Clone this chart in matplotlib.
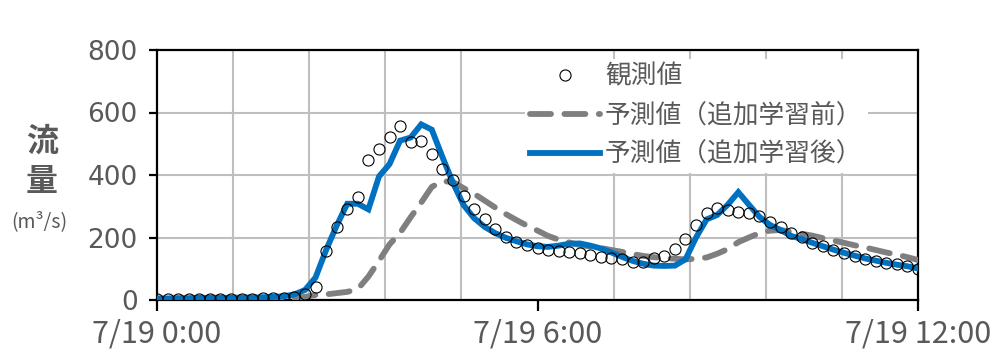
import matplotlib
matplotlib.use("Agg")
import matplotlib.pyplot as plt
import numpy as np

plt.rcParams['font.family'] = ['Noto Sans CJK JP', 'DejaVu Sans']

# 10-minute steps from 7/19 0:00 to 7/19 12:00
observed = [2, 2, 3, 3, 3, 3, 3, 3, 4, 4, 5, 5, 7, 10, 18, 42, 158, 234, 291, 330,
            448, 483, 522, 557, 506, 509, 466, 419, 385, 333, 291, 260, 228, 202, 187, 176,
            165, 160, 156, 154, 150, 144, 139, 136, 130, 122, 123, 134, 141, 163, 196, 239,
            278, 296, 288, 282, 278, 268, 250, 234, 216, 203, 183, 173, 160, 150, 141, 131,
            125, 118, 114, 109, 99]
pred_before = [1, 1, 1, 1, 1, 1, 1, 2, 2, 2, 2, 3, 3, 5, 10, 16, 18, 22, 26, 35,
               75, 125, 178, 215, 265, 312, 362, 380, 378, 358, 340, 318, 296, 275, 256, 238,
               222, 205, 193, 184, 176, 171, 166, 160, 154, 147, 141, 137, 134, 132, 130, 132,
               136, 148, 163, 185, 200, 214, 222, 224, 218, 212, 206, 198, 190, 183, 175, 168,
               160, 152, 145, 137, 128]
pred_after = [5, 5, 6, 6, 7, 7, 7, 7, 8, 8, 9, 10, 12, 18, 32, 72, 160, 238, 308, 308,
              290, 395, 435, 510, 520, 562, 545, 458, 375, 304, 262, 234, 214, 199, 188, 178,
              172, 170, 174, 180, 181, 174, 165, 152, 138, 125, 116, 110, 109, 110, 130, 200,
              258, 272, 305, 345, 305, 266, 240, 224, 205, 195, 183, 172, 161, 151, 142, 133,
              126, 119, 113, 108, 101]
hours = np.arange(len(observed)) / 6.0

x_ticks = [0, 6, 12]
x_tick_labels = ['7/19 0:00', '7/19 6:00', '7/19 12:00']
y_ticks = [0, 200, 400, 600, 800]
series_labels = ['観測値', '予測値（追加学習前）', '予測値（追加学習後）']

text_color = '#595959'

fig = plt.figure(figsize=(10.06, 3.63), dpi=100)
ax = fig.add_axes([157 / 1006, 1 - 300 / 363, (918 - 157) / 1006, 250 / 363])

ax.plot(hours, pred_before, color='#7f7f7f', linewidth=4.2, linestyle=(0, (3.6, 2.3)),
        dash_capstyle='round', label=series_labels[1], zorder=3)
ax.plot(hours, pred_after, color='#0070c0', linewidth=4.2, solid_joinstyle='miter',
        label=series_labels[2], zorder=4)
ax.plot(hours, observed, linestyle='none', marker='o', markersize=8,
        markerfacecolor='none', markeredgecolor='black', markeredgewidth=0.8,
        label=series_labels[0], zorder=5)

ax.set_xlim(0, 12)
ax.set_ylim(0, 800)
ax.set_xticks(x_ticks)
ax.set_xticklabels(x_tick_labels)
ax.set_xticks(np.arange(0, 12.01, 1.2), minor=True)
ax.set_yticks(y_ticks)
ax.grid(which='minor', axis='x', color='#bfbfbf', linewidth=1.5)
ax.grid(which='major', axis='y', color='#bfbfbf', linewidth=1.5)
ax.set_axisbelow(True)

for side in ['left', 'right', 'top', 'bottom']:
    ax.spines[side].set_color('black')
    ax.spines[side].set_linewidth(1.6)

ax.tick_params(axis='x', which='major', length=8, width=1.6, colors='black',
               labelcolor=text_color, labelsize=22, pad=5)
ax.tick_params(axis='x', which='minor', length=0)
ax.tick_params(axis='y', length=6, width=1.6, colors='black',
               labelcolor=text_color, pad=8)
for lbl in ax.get_yticklabels():
    lbl.set_family('DejaVu Sans')
    lbl.set_fontsize(19)

handles, labels = ax.get_legend_handles_labels()
order = [2, 0, 1]
leg = ax.legend([handles[i] for i in order], [labels[i] for i in order],
                loc='upper left', bbox_to_anchor=(0.484, 0.965), fontsize=18.5,
                frameon=True, framealpha=1, facecolor='white', edgecolor='none',
                handlelength=2.7, handletextpad=0.2, labelspacing=0.5,
                borderpad=0.2, borderaxespad=0, fancybox=False)
for t in leg.get_texts():
    t.set_color(text_color)

fig.text(42 / 1006, 1 - 142 / 363, '流', ha='center', va='center', fontsize=23,
         fontweight='bold', color=text_color)
fig.text(42 / 1006, 1 - 182 / 363, '量', ha='center', va='center', fontsize=23,
         fontweight='bold', color=text_color)
fig.text(39 / 1006, 1 - 222 / 363, '(m³/s)', ha='center', va='center', fontsize=14,
         color=text_color)

fig.savefig('out.png', dpi=100)
